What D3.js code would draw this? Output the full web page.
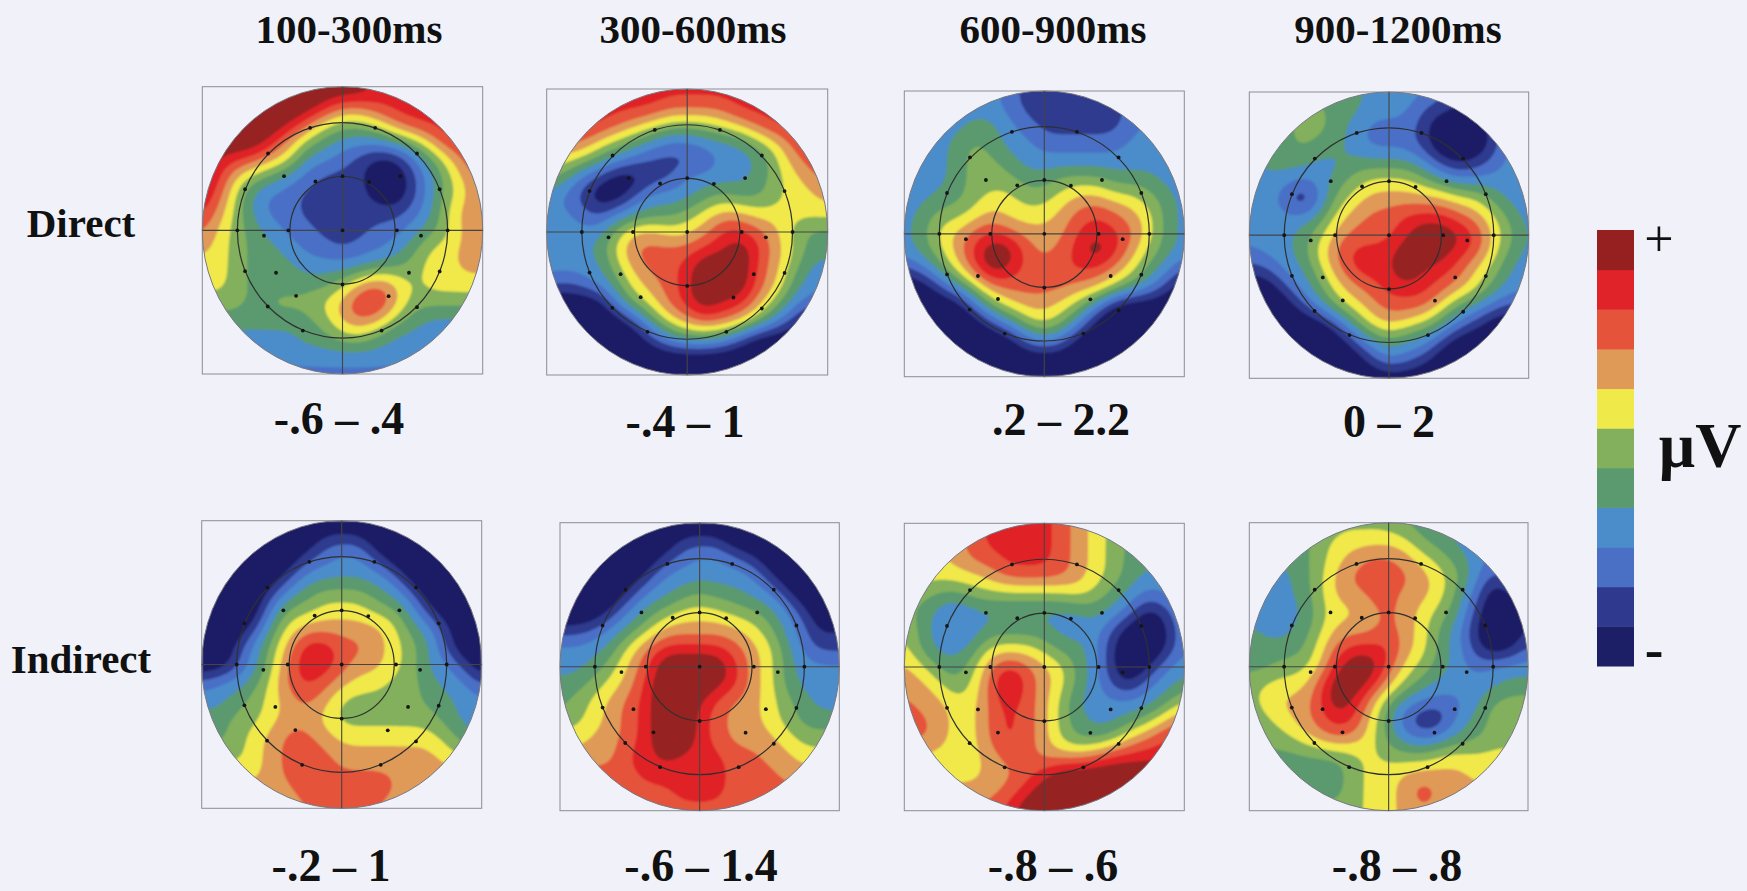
<!DOCTYPE html>
<html>
<head>
<meta charset="utf-8">
<script src="https://cdnjs.cloudflare.com/ajax/libs/d3/7.8.5/d3.min.js"></script>
<style>
  html, body { margin: 0; padding: 0; background: #f0f1f9; }
  svg { display: block; }
  text { font-family: "Liberation Serif", serif; font-weight: bold; fill: #111; text-anchor: middle; }
</style>
</head>
<body>
<svg></svg>
<script>
// labels
const timeWindows = ['100-300ms', '300-600ms', '600-900ms', '900-1200ms'];
const conditions = ['Direct', 'Indirect'];
const directRanges = ['-.6 – .4', '-.4 – 1', '.2 – 2.2', '0 – 2'];
const indirectRanges = ['-.2 – 1', '-.6 – 1.4', '-.8 – .6', '-.8 – .8'];

// colour bands, most negative first
const bandColors = ['#1c1f66', '#2f3a8e', '#4a70c6', '#4b8ccb', '#5a9a6e', '#82b05c',
  '#f0e94a', '#e09a58', '#e5533a', '#e02328', '#962020'];

// band on a 17 x 17 grid over its box (11 and -1 are past the end of the scale)
const direct100 = [
  [11,11,11,11,11,11,11,11,11,11,9,9,9,9,9,9,9],
  [11,11,11,11,11,11,11,9.5,8,8,9,9,9,9,9,9,9],
  [11,11,11,11,11,10,8,6,5,5,6,8,9,9,9,9,9],
  [11,11,11,11,9,7,5,4,3,3,3,4,5,7,9,9,9],
  [11,9,9,8,7,6,3,3,2,1,0,0,2,4,6,8,9],
  [10,9,6,5,4,3,2,1,1,1,-1,-1,1,3,5,7,8],
  [10,8,5,3,2,2,1,1,1,1,0,-1,1,3,5,6,8],
  [9,7,5,3,2,2,1,1,1,1,1,1,2,3,6,7,8],
  [8,6,5,4,3,2,2,1,1,1,2,2,3,4,5,7,7],
  [7,6,5,4,4,3,2,2,1,2,2,3,4,6,6,7,7],
  [6,6,5,4,4,4,3,3,3,3,4,4,5,6,6,7,7],
  [6,6,5,4,4,4,4,4,5,7,8,7,5,6,6,6,6],
  [5,5,5,4,5,5,5,6,7,9,9.5,7,5,5,5,5,5],
  [4,4,4,4,4,4,4,5,7,8,7,5,4,3,3,3,3],
  [3,3,3,3,3,3,4,4,5,5,4,3,3,3,3,3,3],
  [3,3,3,3,3,3,3,3,3,3,3,3,3,3,3,3,3],
  [3,3,3,2,2,2,2,2,2,2,2,2,2,3,3,3,3]
];
const direct300 = [
  [9,9,9,9,9,9,9,9,9,9,9,9,9,9,9,9,9],
  [9,9,9,9,9,9,9,8,8,8,8,9,9,9,9,9,9],
  [9,9,9,9,8,7,6,5,5,5,6,7,8,9,9,9,9],
  [8,8,8,6,5,4,3,2,2,3,3,3,5,6,8,9,9],
  [6,6,5,4,3,2,1,1,1,1,3,3,3,5,7,8,9],
  [5,4,2,1,-1,-1,1,1,3,3,3,3,4,5,6,7,8],
  [3,2,1,-1,-1,2,3,3,3,4,5,4,4,5,6,6,7],
  [3,3,2,1,3,3,4,4,5,6,7,7,6,6,6,6,6],
  [3,3,3,3,5,7,7,6,6,7,9,9,8,7,5,4,4],
  [3,3,3,4,6,8,8,8,8,9,9,11,9,7,6,4,4],
  [3,3,3,3,5,7,8,8,9,11,11,11,8,7,5,3,3],
  [2,1,2,3,4,6,7,8,9,11,11,11,8,7,4,3,3],
  [-1,-1,-1,-1,3,5,6,8,9,11,9,9,7,5,3,2,1],
  [-1,-1,-1,-1,-1,1,4,6,7,8,8,7,5,3,1,-1,-1],
  [-1,-1,-1,-1,-1,-1,1,3,4,4,3,1,-1,-1,-1,-1,-1],
  [-1,-1,-1,-1,-1,-1,-1,-1,-1,-1,-1,-1,-1,-1,-1,-1,-1],
  [-1,-1,-1,-1,-1,-1,-1,-1,-1,-1,-1,-1,-1,-1,-1,-1,-1]
];
const direct600 = [
  [3,3,3,3,3,3,2,1,1,1,1,1,1,2,2,3,3],
  [3,3,3,3,3,3,2,1,1,1,1,1,1,2,2,3,3],
  [3,3,3,3,4,4,3,2,1,1,1,1,1,2,3,3,3],
  [3,3,3,4,5,4,3,3,2,2,2,2,2,3,3,3,3],
  [3,3,3,4,5,5,4,3,3,3,3,3,3,3,3,3,3],
  [3,3,3,4,5,5,5,4,4,5,5,5,4,4,4,3,3],
  [3,3,4,4,5,6,6,5,5,6,7,7,6,6,5,4,3],
  [3,4,5,5,6,7,6,6,6,7,8,9,8,7,6,4,3],
  [3,4,6,7,8,9,8,7,7,7,9,9,9,8,6,4,3],
  [3,4,5,7,9,11,11,8,7,8,9,11.5,9,7,5,4,3],
  [1,2,4,6,8,11,9,8,8,8,9,8,7,6,4,3,1],
  [-1,-1,1,3,5,7,8,8,8,8,7,7,6,4,3,1,-1],
  [-1,-1,-1,-1,2,5,6,7,7,6,5,3,-1,-1,-1,-1,-1],
  [-1,-1,-1,-1,-1,1,3,5,6,5,3,-1,-1,-1,-1,-1,-1],
  [-1,-1,-1,-1,-1,-1,-1,2,3,2,-1,-1,-1,-1,-1,-1,-1],
  [-1,-1,-1,-1,-1,-1,-1,-1,-1,-1,-1,-1,-1,-1,-1,-1,-1],
  [-1,-1,-1,-1,-1,-1,-1,-1,-1,-1,-1,-1,-1,-1,-1,-1,-1]
];
const direct900 = [
  [4,4,4,4,4,4,4,3,3,3,3,2,1,1,2,3,3],
  [4,4,4,5,5,4,4,3,3,3,1,1,0,1,2,3,3],
  [4,4,4,5,5,4,3,2,2,2,1,-1,-1,-1,1,3,3],
  [4,4,4,5,4,4,3,2,2,2,1,-1,-1,-1,1,3,3],
  [3,4,4,4,3,3,4,4,4,4,3,1,0,1,2,3,3],
  [3,3,3,2,3,4,5,6,6,6,5,4,3,3,3,3,3],
  [3,3,2,-1,2,5,6,7,7,7,7,7,6,6,4,3,3],
  [3,3,3,3,4,6,7,8,8,9,9,9,8,7,6,4,3],
  [3,3,3,4,5,7,8,8,8,9,11,11,10,9,6,5,3],
  [2,3,3,4,6,8,9,9,9,11,11,10,9,8,6,4,3],
  [1,1,3,3,5,7,9,9,9,11,9,9,8,6,5,3,3],
  [-1,-1,1,3,4,6,7,8,9,9,9,8,7,6,4,3,3],
  [-1,-1,-1,1,3,5,6,7,8,8,8,6,4,3,2,1,1],
  [-1,-1,-1,-1,-1,1,4,6,7,6,5,4,2,1,-1,-1,-1],
  [-1,-1,-1,-1,-1,-1,1,3,4,3,3,1,-1,-1,-1,-1,-1],
  [-1,-1,-1,-1,-1,-1,-1,1,3,2,1,-1,-1,-1,-1,-1,-1],
  [-1,-1,-1,-1,-1,-1,-1,-1,-1,-1,-1,-1,-1,-1,-1,-1,-1]
];
const indirect100 = [
  [-1,-1,-1,-1,-1,-1,-1,-1,-1,-1,-1,-1,-1,-1,-1,-1,-1],
  [-1,-1,-1,-1,-1,-1,-1,1,1,1,-1,-1,-1,-1,-1,-1,-1],
  [-1,-1,-1,-1,-1,-1,1,2,3,3,1,-1,-1,-1,-1,-1,-1],
  [-1,-1,-1,-1,-1,1,3,3,3,3,3,2,-1,-1,-1,-1,-1],
  [-1,-1,-1,-1,1,3,4,5,5,5,4,3,2,-1,-1,-1,-1],
  [-1,-1,-1,-1,3,5,5,6,6,6,5,5,3,1,-1,-1,-1],
  [-1,-1,-1,1,4,6,7,7,7,7,7,6,4,3,1,-1,-1],
  [-1,-1,1,3,5,7,9.5,9.5,8,8,7,6,5,4,1,-1,-1],
  [-1,-1,1,3,5,8,9.5,9.5,8,7,7,6,5,3,3,1,-1],
  [2,3,3,4,6,8,9,8,7,6,6,5,5,4,3,3,1],
  [3,3,4,5,6,7,8,7,5,5,5,5,5,4,4,3,3],
  [4,4,5,5,6,7,7,6,5,5,5,5,5,5,4,3,3],
  [4,4,5,6,7,8,8,7,6,6,6,6,6,6,5,4,3],
  [5,5,5,6,7,8,8,8,7,7,7,7,7,7,6,5,5],
  [6,6,6,6,7,8,8.4,8,7.5,7.5,7.5,7.5,7,7,7,7,7],
  [7,7,7,7,7,7,8.4,8.4,8.4,8.4,8.4,7.5,7,7,7,7,7],
  [7,7,7,7,7,7,7,8.4,8.4,8.4,7,7,7,7,7,7,7]
];
const indirect300 = [
  [-1,-1,-1,-1,-1,-1,-1,-1,-1,-1,-1,-1,-1,-1,-1,-1,-1],
  [-1,-1,-1,-1,-1,-1,-1,1,1,1,-1,-1,-1,-1,-1,-1,-1],
  [-1,-1,-1,-1,-1,-1,1,2,3,3,2,1,-1,-1,-1,-1,-1],
  [-1,-1,-1,-1,-1,1,3,3,3,3,3,3,1,-1,-1,-1,-1],
  [-1,-1,-1,-1,1,3,3,4,5,4,4,3,3,1,-1,-1,-1],
  [-1,-1,-1,1,3,4,5,6,6,6,5,5,4,3,1,-1,-1],
  [1,1,2,3,4,5,7,7,7,7,7,6,5,3,2,0,1],
  [3,3,3,4,6,8,9,9,9,9,8,7,6,4,2,1,1],
  [3,3,4,5,7,8,11,11,11,11,9,7,6,4,3,3,3],
  [4,4,5,6,7,9,11,11,11,10,9,7,6,4,3,3,3],
  [4,5,6,7,8,9,11,11,9.5,8,7,7,6,5,4,3,3],
  [5,5,6,7,8,9,11,11,9,8,7,7,6,5,4,4,4],
  [6,6,7,7,8,9,11,11,9,8,7,7,7,6,5,5,5],
  [7,7,7,7,9,9,10,9,9,9,8,8,7,7,6,6,6],
  [8,8,8,8,8,9,9,9,9,9,8,8,8,7,7,7,7],
  [8,8,8,8,8,8,8,9,9,9,8,8,8,8,8,8,8],
  [8,8,8,8,8,8,8,8,8,8,8,8,8,8,8,8,8]
];
const indirect600 = [
  [7,7,7,7,8,9,9,9,9,8,7,6,5,5,4,4,4],
  [7,7,7,7,8,9,9,9,9,8,7,6,5,4,4,4,4],
  [6,6,6,7,8,8,9,9,9,8,7,6,5,4,4,4,4],
  [6,6,6,6,6,7,8,8,8,8,7,6,5,4,3,3,3],
  [5,5,4,4,5,5,5,5,5,5,6,5,4,3,2,3,3],
  [5,4,3,2,3,3,3,3,3,3,3,4,3,2,-1,1,3],
  [6,4,3,2,3,4,4,4,4,3,3,3,1,-1,-1,0,3],
  [6,4,3,3,4,6,6,6,5,4,4,3,0,-1,-1,0,3],
  [7,6,4,4,5,8,9,8,7,6,4,3,0,-1,0,3,3],
  [7,7,6,4,6,8,11,8,7,6,4,3,1,0,3,3,4],
  [8,7,7,6,6,8,9,8,7,5,3,3,3,3,3,4,6],
  [8,8,7,6,6,8,9,8,7,5,4,3,3,4,5,7,8],
  [8,8,7,6,6,8,9,8,7,5,4,4,5,7,8,9,9],
  [6,6,6,6,6,7,8,8,7,7,7,8,9,9,9,9,9],
  [6,6,6,6,6,7,7,8,9,11,11,11,11,11,11,11,11],
  [7,7,7,7,7,7,8,9,11,11,11,11,11,11,11,11,11],
  [8,8,8,8,8,8,9,11,11,11,11,11,11,11,11,11,11]
];
const indirect900 = [
  [3,3,4,4,4,5,5,5,5,4,4,4,3,3,3,3,3],
  [3,3,4,4,5,6,6,6,6,6,4,4,3,3,3,3,3],
  [3,3,4,4,5,6,7,8,8,7,6,5,4,3,2,3,3],
  [3,3,3,4,5,7,8,8,8,8,7,6,5,3,1,2,3],
  [3,3,3,4,5,7,7,8,8,7,7,6,4,2,-1,0,3],
  [3,3,3,3,5,6,6,7,8,7,6,5,4,1,-1,-1,1],
  [4,3,3,4,5,7,7,7,8,7,6,4,3,0,-1,-1,1],
  [4,4,4,4,6,8,9,9,9,7,6,4,3,1,-1,0,2],
  [4,4,5,5,6,9,11,11,8,6,5,4,3,2,3,3,3],
  [5,6,6,6,8,11,11,9,7,5,4,3,3,3,3,4,4],
  [5,6,7,7,8,11,9,7,4,3,2,2,2,3,5,5,5],
  [5,5,6,7,8,9,9,6,4,1,0,0,3,4,5,5,5],
  [5,5,5,6,7,8,7,6,4,3,2,3,4,4,5,5,5],
  [4,4,4,4,4,4,5,6,5,5,5,6,6,6,6,6,6],
  [4,4,4,4,4,4,5,6,6,7,7,7,7,6,6,6,6],
  [4,4,4,4,4,4,5,6,6,7,9,7,7,7,7,7,7],
  [5,5,5,5,5,5,5,6,6,7,7,7,7,7,7,7,7]
];

// electrode sites, relative to the head centre and radius
const siteX = [-.231,.233,-.531,.531,-.417,.412,-.695,.693,-.193,.19,0,-.75,-.386,0,.388,.75,-.56,.56,-.695,.693,-.474,.474,0,-.331,.329,-.533,.531,-.283,.279];
const siteY = [-.714,-.714,-.535,-.535,-.377,-.377,-.286,-.286,-.34,-.337,-.377,0,0,0,0,0,.037,.037,.284,.286,.295,.295,.377,.456,.458,.53,.535,.698,.698];

const width = 1747;
const height = 891;

// box of every map: left, right, top, bottom
const boxes = [
  [202.3, 482.7, 86.7, 374], [546.7, 827.7, 89, 375], [904.3, 1184.3, 91, 376.7], [1249.3, 1528.7, 92, 378.3],
  [201.7, 481.7, 520.7, 808.3], [560, 839.3, 522.7, 810.7], [904.3, 1184.3, 523.3, 810.7], [1249.3, 1528, 522.7, 810.7]
];
const maps = [direct100, direct300, direct600, direct900, indirect100, indirect300, indirect600, indirect900];

const svg = d3.select('svg').attr('width', width).attr('height', height);

const defs = svg.append('defs');
defs.append('filter').attr('id', 'soft')
  .append('feGaussianBlur').attr('stdDeviation', 0.8);

// grid refined before contouring so the bands come out round
const refine = 8;
function refined(rows) {
  const n = rows.length;
  const m = (n - 1) * refine + 1;
  const values = new Float64Array(m * m);
  for (let j = 0; j < m; j++) {
    const gy = j / refine, y0 = Math.min(Math.floor(gy), n - 2), ty = gy - y0;
    for (let i = 0; i < m; i++) {
      const gx = i / refine, x0 = Math.min(Math.floor(gx), n - 2), tx = gx - x0;
      values[j * m + i] =
        rows[y0][x0] * (1 - tx) * (1 - ty) + rows[y0][x0 + 1] * tx * (1 - ty) +
        rows[y0 + 1][x0] * (1 - tx) * ty + rows[y0 + 1][x0 + 1] * tx * ty;
    }
  }
  d3.blur2({data: values, width: m, height: m}, 4);
  return {values, m};
}

const thresholds = d3.range(0.5, 10, 1);

maps.forEach(function (rows, idx) {
  const box = boxes[idx];
  const {values, m} = refined(rows);
  const xScale = d3.scaleLinear().domain([0.5, m - 0.5]).range([box[0], box[1]]);
  const yScale = d3.scaleLinear().domain([0.5, m - 0.5]).range([box[2], box[3]]);
  const cx = (box[0] + box[1]) / 2;
  const cy = (box[2] + box[3]) / 2;
  const rx = (box[1] - box[0]) / 2;
  const ry = (box[3] - box[2]) / 2;

  const path = d3.geoPath(d3.geoTransform({
    point: function (x, y) { this.stream.point(xScale(x), yScale(y)); }
  }));

  defs.append('clipPath').attr('id', 'head' + idx)
    .append('ellipse').attr('cx', cx).attr('cy', cy).attr('rx', rx).attr('ry', ry);

  const g = svg.append('g');

  const bands = g.append('g')
    .attr('clip-path', 'url(#head' + idx + ')')
    .append('g')
    .attr('filter', 'url(#soft)');
  bands.append('rect')
    .attr('x', box[0]).attr('y', box[2])
    .attr('width', box[1] - box[0]).attr('height', box[3] - box[2])
    .attr('fill', bandColors[0]);
  bands.selectAll('path')
    .data(d3.contours().size([m, m]).thresholds(thresholds)(values))
    .enter()
    .append('path')
    .attr('d', path)
    .attr('fill', function (d, i) { return bandColors[i + 1]; });

  // box, head outline, rings, cross
  g.append('rect')
    .attr('x', box[0]).attr('y', box[2])
    .attr('width', box[1] - box[0]).attr('height', box[3] - box[2])
    .attr('fill', 'none').attr('stroke', '#8d8d93').attr('stroke-width', 1);
  g.append('ellipse')
    .attr('cx', cx).attr('cy', cy).attr('rx', rx).attr('ry', ry)
    .attr('fill', 'none').attr('stroke', '#77777f').attr('stroke-width', 1);
  [0.375, 0.75].forEach(function (k) {
    g.append('ellipse')
      .attr('cx', cx).attr('cy', cy).attr('rx', rx * k).attr('ry', ry * k)
      .attr('fill', 'none').attr('stroke', '#2e3030').attr('stroke-width', 1.2);
  });
  g.append('line').attr('x1', box[0]).attr('x2', box[1]).attr('y1', cy).attr('y2', cy)
    .attr('stroke', '#444').attr('stroke-width', 1.1);
  g.append('line').attr('x1', cx).attr('x2', cx).attr('y1', box[2]).attr('y2', box[3])
    .attr('stroke', '#444').attr('stroke-width', 1.1);

  g.selectAll('circle')
    .data(siteX)
    .enter()
    .append('circle')
    .attr('cx', function (d) { return cx + d * rx; })
    .attr('cy', function (d, i) { return cy + siteY[i] * ry; })
    .attr('r', 1.9)
    .attr('fill', '#151515');
});

// column titles, row titles, ranges
const titleX = [349, 693, 1053, 1398];
svg.selectAll('.title')
  .data(timeWindows)
  .enter()
  .append('text')
  .attr('class', 'title')
  .attr('x', function (d, i) { return titleX[i]; })
  .attr('y', 43)
  .attr('font-size', 41)
  .text(function (d) { return d; });

const rowY = [237, 673];
svg.selectAll('.row')
  .data(conditions)
  .enter()
  .append('text')
  .attr('class', 'row')
  .attr('x', 81)
  .attr('y', function (d, i) { return rowY[i]; })
  .attr('font-size', 41)
  .text(function (d) { return d; });

const rangeX = [339, 685, 1061, 1389, 331, 701, 1053, 1397];
const rangeY = [434, 437, 435, 437, 881, 881, 881, 881];
svg.selectAll('.range')
  .data(directRanges.concat(indirectRanges))
  .enter()
  .append('text')
  .attr('class', 'range')
  .attr('x', function (d, i) { return rangeX[i]; })
  .attr('y', function (d, i) { return rangeY[i]; })
  .attr('font-size', 46)
  .text(function (d) { return d; });

// colour bar
const barScale = d3.scaleBand()
  .domain(d3.range(bandColors.length).reverse())
  .range([230, 666]);
svg.selectAll('.bar')
  .data(bandColors)
  .enter()
  .append('rect')
  .attr('class', 'bar')
  .attr('x', 1597)
  .attr('y', function (d, i) { return barScale(i); })
  .attr('width', 37)
  .attr('height', barScale.bandwidth() + 0.5)
  .attr('fill', function (d) { return d; });

svg.append('text').attr('x', 1659).attr('y', 256).attr('font-size', 52).style('font-weight', 'normal').text('+');
svg.append('text').attr('x', 1654).attr('y', 668).attr('font-size', 56).text('-');
svg.append('text').attr('x', 1700).attr('y', 467).attr('font-size', 64).text('µV');
</script>
</body>
</html>
